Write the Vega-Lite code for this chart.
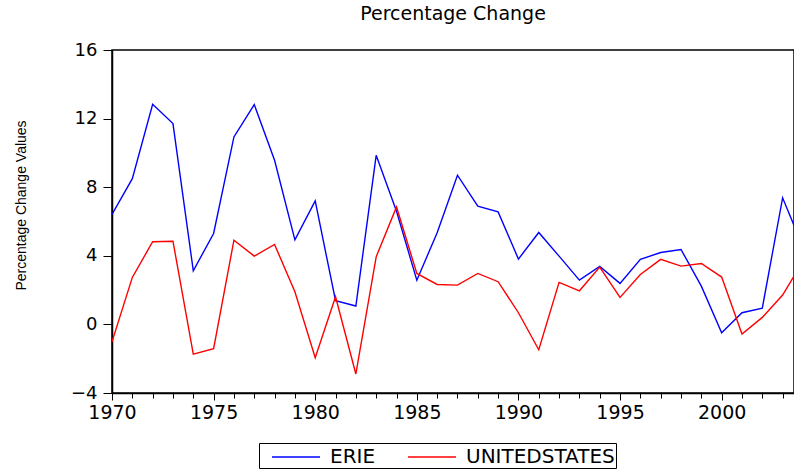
{
  "$schema": "https://vega.github.io/schema/vega-lite/v6.json",
  "width": 682,
  "height": 343,
  "autosize": {"type": "none"},
  "padding": {"left": 112, "top": 50, "right": 0, "bottom": 76},
  "background": "white",
  "title": {"text": "Percentage Change", "font": "DejaVu Sans", "fontSize": 19, "fontWeight": "normal", "color": "black", "anchor": "middle", "offset": 17},
  "config": {
    "view": {"stroke": "black", "strokeWidth": 1.5},
    "axis": {"grid": false, "domainColor": "black", "tickColor": "black", "labelColor": "black", "labelFont": "DejaVu Sans", "labelFontSize": 18}
  },
  "data": {"values": [
    {"year": 1970, "series": "ERIE", "value": 6.41},
    {"year": 1971, "series": "ERIE", "value": 8.50},
    {"year": 1972, "series": "ERIE", "value": 12.83},
    {"year": 1973, "series": "ERIE", "value": 11.71},
    {"year": 1974, "series": "ERIE", "value": 3.13},
    {"year": 1975, "series": "ERIE", "value": 5.30},
    {"year": 1976, "series": "ERIE", "value": 10.93},
    {"year": 1977, "series": "ERIE", "value": 12.82},
    {"year": 1978, "series": "ERIE", "value": 9.57},
    {"year": 1979, "series": "ERIE", "value": 4.93},
    {"year": 1980, "series": "ERIE", "value": 7.20},
    {"year": 1981, "series": "ERIE", "value": 1.38},
    {"year": 1982, "series": "ERIE", "value": 1.07},
    {"year": 1983, "series": "ERIE", "value": 9.86},
    {"year": 1984, "series": "ERIE", "value": 6.6},
    {"year": 1985, "series": "ERIE", "value": 2.58},
    {"year": 1986, "series": "ERIE", "value": 5.34},
    {"year": 1987, "series": "ERIE", "value": 8.70},
    {"year": 1988, "series": "ERIE", "value": 6.89},
    {"year": 1989, "series": "ERIE", "value": 6.56},
    {"year": 1990, "series": "ERIE", "value": 3.81},
    {"year": 1991, "series": "ERIE", "value": 5.36},
    {"year": 1992, "series": "ERIE", "value": 3.98},
    {"year": 1993, "series": "ERIE", "value": 2.58},
    {"year": 1994, "series": "ERIE", "value": 3.38},
    {"year": 1995, "series": "ERIE", "value": 2.39},
    {"year": 1996, "series": "ERIE", "value": 3.79},
    {"year": 1997, "series": "ERIE", "value": 4.19},
    {"year": 1998, "series": "ERIE", "value": 4.37},
    {"year": 1999, "series": "ERIE", "value": 2.23},
    {"year": 2000, "series": "ERIE", "value": -0.49},
    {"year": 2001, "series": "ERIE", "value": 0.68},
    {"year": 2002, "series": "ERIE", "value": 0.95},
    {"year": 2003, "series": "ERIE", "value": 7.38},
    {"year": 2004, "series": "ERIE", "value": 4.52},
    {"year": 1970, "series": "UNITEDSTATES", "value": -1.01},
    {"year": 1971, "series": "UNITEDSTATES", "value": 2.74},
    {"year": 1972, "series": "UNITEDSTATES", "value": 4.82},
    {"year": 1973, "series": "UNITEDSTATES", "value": 4.85},
    {"year": 1974, "series": "UNITEDSTATES", "value": -1.73},
    {"year": 1975, "series": "UNITEDSTATES", "value": -1.42},
    {"year": 1976, "series": "UNITEDSTATES", "value": 4.91},
    {"year": 1977, "series": "UNITEDSTATES", "value": 3.98},
    {"year": 1978, "series": "UNITEDSTATES", "value": 4.66},
    {"year": 1979, "series": "UNITEDSTATES", "value": 1.90},
    {"year": 1980, "series": "UNITEDSTATES", "value": -1.94},
    {"year": 1981, "series": "UNITEDSTATES", "value": 1.61},
    {"year": 1982, "series": "UNITEDSTATES", "value": -2.89},
    {"year": 1983, "series": "UNITEDSTATES", "value": 3.94},
    {"year": 1984, "series": "UNITEDSTATES", "value": 6.85},
    {"year": 1985, "series": "UNITEDSTATES", "value": 2.97},
    {"year": 1986, "series": "UNITEDSTATES", "value": 2.33},
    {"year": 1987, "series": "UNITEDSTATES", "value": 2.29},
    {"year": 1988, "series": "UNITEDSTATES", "value": 2.97},
    {"year": 1989, "series": "UNITEDSTATES", "value": 2.49},
    {"year": 1990, "series": "UNITEDSTATES", "value": 0.68},
    {"year": 1991, "series": "UNITEDSTATES", "value": -1.48},
    {"year": 1992, "series": "UNITEDSTATES", "value": 2.45},
    {"year": 1993, "series": "UNITEDSTATES", "value": 1.96},
    {"year": 1994, "series": "UNITEDSTATES", "value": 3.34},
    {"year": 1995, "series": "UNITEDSTATES", "value": 1.57},
    {"year": 1996, "series": "UNITEDSTATES", "value": 2.91},
    {"year": 1997, "series": "UNITEDSTATES", "value": 3.79},
    {"year": 1998, "series": "UNITEDSTATES", "value": 3.40},
    {"year": 1999, "series": "UNITEDSTATES", "value": 3.55},
    {"year": 2000, "series": "UNITEDSTATES", "value": 2.76},
    {"year": 2001, "series": "UNITEDSTATES", "value": -0.56},
    {"year": 2002, "series": "UNITEDSTATES", "value": 0.41},
    {"year": 2003, "series": "UNITEDSTATES", "value": 1.71},
    {"year": 2004, "series": "UNITEDSTATES", "value": 3.68}
  ]},
  "resolve": {"axis": {"x": "independent"}},
  "layer": [
    {
      "mark": {"type": "line", "strokeOpacity": 0, "clip": true},
      "encoding": {
        "x": {"field": "year", "type": "quantitative", "scale": {"domain": [1970, 2003.56], "nice": false, "zero": false},
              "axis": {"orient": "bottom", "values": [1970,1971,1972,1973,1974,1975,1976,1977,1978,1979,1980,1981,1982,1983,1984,1985,1986,1987,1988,1989,1990,1991,1992,1993,1994,1995,1996,1997,1998,1999,2000,2001,2002,2003], "labels": false, "tickSize": 5, "domain": false, "title": null}},
        "y": {"field": "value", "type": "quantitative"},
        "detail": {"field": "series"}
      }
    },
    {
      "mark": {"type": "line", "strokeWidth": 1.4, "clip": true},
      "encoding": {
        "x": {"field": "year", "type": "quantitative", "scale": {"domain": [1970, 2003.56], "nice": false, "zero": false},
              "axis": {"orient": "bottom", "values": [1970,1975,1980,1985,1990,1995,2000], "format": "d", "tickSize": 7, "labelPadding": 3, "domainWidth": 1.5, "title": null, "labelFontSize": 19, "labelFlush": false}},
        "y": {"field": "value", "type": "quantitative", "scale": {"domain": [-4, 16], "nice": false},
              "axis": {"values": [-4, 0, 4, 8, 12, 16], "tickSize": 9, "labelPadding": 6, "domainWidth": 1.5,
                       "title": "Percentage Change Values", "titleFont": "Liberation Sans", "titleFontSize": 14, "titleFontWeight": "normal", "titleColor": "black", "titleX": -84, "titleY": 155}},
        "color": {"field": "series", "type": "nominal",
                  "scale": {"domain": ["ERIE", "UNITEDSTATES"], "range": ["#0000ff", "#ff0000"]},
                  "legend": {"title": null, "orient": "none", "legendX": 147, "legendY": 393, "direction": "horizontal",
                             "symbolType": "M-0.083,0H3.917", "symbolSize": 576, "symbolStrokeWidth": 1.3, "labelFont": "DejaVu Sans", "labelFontSize": 20, "labelColor": "black", "labelOffset": 44, "columnPadding": 20,
                             "strokeColor": "black", "padding": 1, "fillColor": "white"}}
      }
    }
  ]
}
